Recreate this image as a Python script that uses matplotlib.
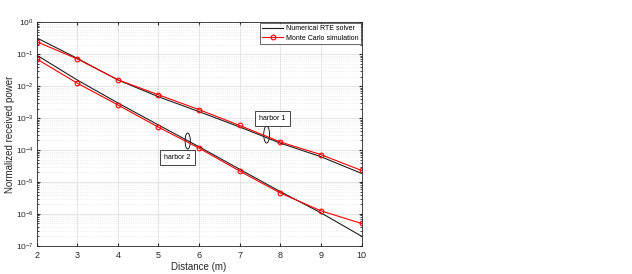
import numpy as np
import matplotlib
matplotlib.use("Agg")
import matplotlib.pyplot as plt
from matplotlib.patches import Ellipse

plt.rcParams["font.family"] = ["Liberation Sans", "DejaVu Sans"]
plt.rcParams["mathtext.fontset"] = "custom"
plt.rcParams["mathtext.rm"] = "Liberation Sans"

# ==================== DATA ====================
distance = [2, 3, 4, 5, 6, 7, 8, 9, 10]

rte_harbor1 = [0.33, 0.075, 0.0158, 4.7e-3, 1.6e-3, 5.3e-4, 1.65e-4, 6.2e-5, 1.86e-5]
mc_harbor1 = [0.25, 0.072, 0.0160, 5.4e-3, 1.85e-3, 5.9e-4, 1.8e-4, 7.2e-5, 2.3e-5]

rte_harbor2 = [0.095, 0.0157, 3.0e-3, 6.1e-4, 1.27e-4, 2.5e-5, 5.0e-6, 1.08e-6, 2.0e-7]
mc_harbor2 = [0.072, 0.0125, 2.6e-3, 5.2e-4, 1.15e-4, 2.2e-5, 4.5e-6, 1.25e-6, 5.0e-7]

# ==================== PLOT ====================
fig = plt.figure(figsize=(6.32, 2.74), dpi=100)
ax = fig.add_axes([0.058, 0.103, 0.514, 0.815])

ax.semilogy(distance, rte_harbor1, "-", color="#202020", lw=0.8,
            label="Numerical RTE solver")
ax.semilogy(distance, mc_harbor1, "-o", color="red", lw=0.8, ms=3.4,
            mfc="none", mew=0.8, label="Monte Carlo simulation")
ax.semilogy(distance, rte_harbor2, "-", color="#202020", lw=0.8)
ax.semilogy(distance, mc_harbor2, "-o", color="red", lw=0.8, ms=3.4,
            mfc="none", mew=0.8)

ax.set_xlim(2, 10)
ax.set_ylim(1e-7, 1e0)
ax.set_xticks(distance)
ax.set_yticks([10.0 ** k for k in range(-7, 1)])

ax.grid(True, which="major", color="#e0e0e0", lw=0.6)
ax.grid(True, which="minor", axis="y", color="#e0e0e0", lw=0.5, ls=":")
ax.set_axisbelow(True)
ax.tick_params(which="both", direction="in", top=True, right=True,
               labelsize=6.5, colors="#262626", length=2.5)
ax.tick_params(axis="y", labelsize=6, pad=2)
ax.tick_params(which="minor", length=1.5)
for s in ax.spines.values():
    s.set_color("#262626")
    s.set_linewidth(0.6)

ax.set_xlabel("Distance (m)", fontsize=7, color="#262626", labelpad=2)
ax.set_ylabel("Normalized received power", fontsize=7, color="#262626")
ax.yaxis.set_label_coords(-0.068, 0.5)

leg = ax.legend(loc="upper right", fontsize=5, frameon=True, fancybox=False,
                borderpad=0.35, handlelength=3.0, labelspacing=0.35,
                handletextpad=0.4, borderaxespad=0.05)
leg.get_frame().set_edgecolor("#262626")
leg.get_frame().set_linewidth(0.6)

# annotations (axes-fraction coordinates)
ax.add_patch(Ellipse((0.708, 0.498), 0.018, 0.076, transform=ax.transAxes,
                     fill=False, ec="black", lw=0.6))
ax.text(0.726, 0.570, "harbor 1", transform=ax.transAxes, fontsize=5,
        ha="center", va="center",
        bbox=dict(boxstyle="square,pad=0.6", fc="white", ec="#262626", lw=0.6))
ax.add_patch(Ellipse((0.465, 0.469), 0.016, 0.072, transform=ax.transAxes,
                     fill=False, ec="black", lw=0.6))
ax.text(0.433, 0.394, "harbor 2", transform=ax.transAxes, fontsize=5,
        ha="center", va="center",
        bbox=dict(boxstyle="square,pad=0.6", fc="white", ec="#262626", lw=0.6))

fig.savefig("out.png", dpi=100)
